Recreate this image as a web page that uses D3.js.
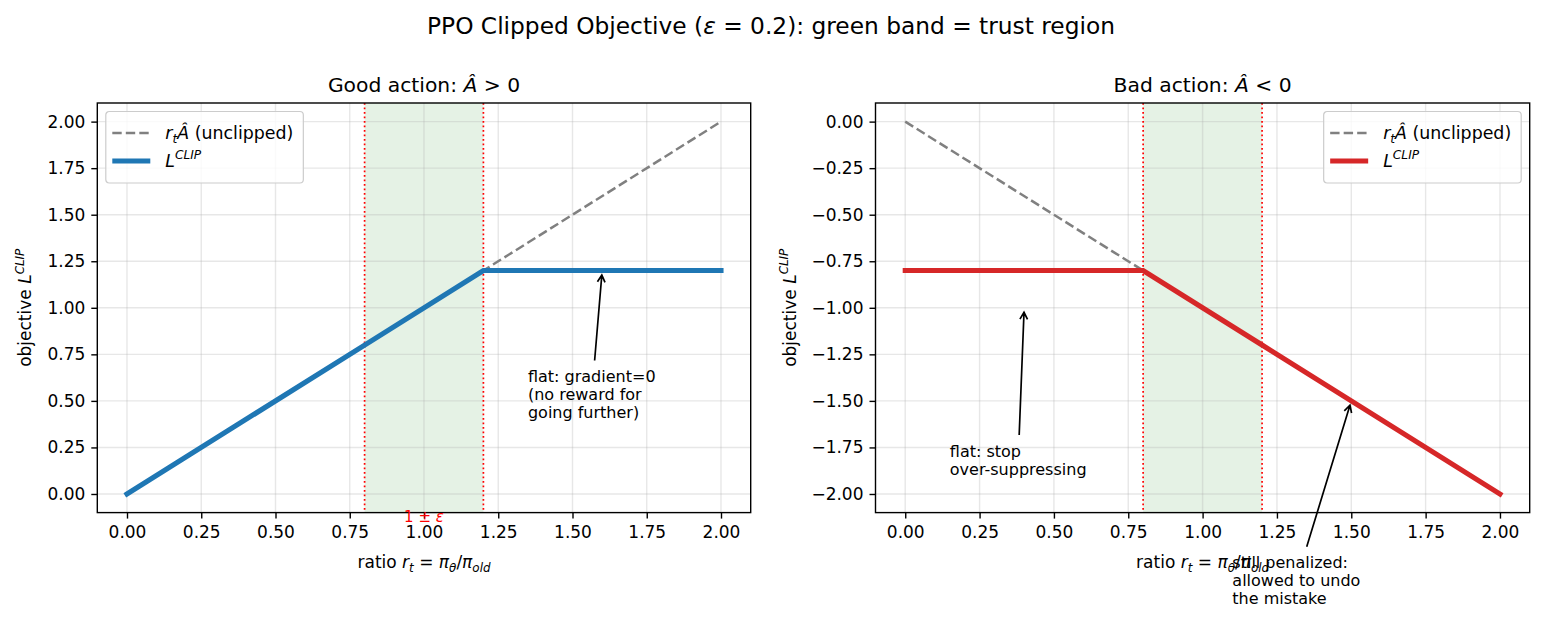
<!DOCTYPE html>
<html>
<head>
<meta charset="utf-8">
<script src="https://cdn.jsdelivr.net/npm/d3@7"></script>
<style>
body{margin:0;background:#fff;}
text{font-family:"DejaVu Sans",sans-serif;fill:#000;}
</style>
</head>
<body>
<svg id="chart" width="1543" height="621"></svg>
<script>
// ratio r_t and the objective values at the kinks (lines are straight between them)
var ratio = [0, 0.8, 1.2, 2.0];
var goodUnclipped = [0, 0.8, 1.2, 2.0];
var goodClip = [0, 0.8, 1.2, 1.2];
var badUnclipped = [0, -0.8, -1.2, -2.0];
var badClip = [-0.8, -0.8, -1.2, -2.0];
var bandEdges = [0.8, 1.2];

var xTicks = [0, 0.25, 0.5, 0.75, 1.0, 1.25, 1.5, 1.75, 2.0];
var goodYTicks = [0, 0.25, 0.5, 0.75, 1.0, 1.25, 1.5, 1.75, 2.0];
var badYTicks = [0, -0.25, -0.5, -0.75, -1.0, -1.25, -1.5, -1.75, -2.0];

var goodNotes = [
  {lines: ["flat: gradient=0", "(no reward for", "going further)"], xy: [1.6, 1.2], xytext: [1.35, 0.6]}
];
var badNotes = [
  {lines: ["flat: stop", "over-suppressing"], xy: [0.4, -1.0], xytext: [0.15, -1.8]},
  {lines: ["still penalized:", "allowed to undo", "the mistake"], xy: [1.5, -1.5], xytext: [1.1, -2.4]}
];

var svg = d3.select("#chart");
var fsTick = 17, fsAnn = 16;

// tiny mathtext-ish helper: parts = [{t, i (italic), sub, sup}]
function rich(textSel, parts, size){
  var prev = 0;
  parts.forEach(function(p){
    var shift = p.sub ? 0.25*size : (p.sup ? -0.45*size : 0);
    var ts = textSel.append("tspan").text(p.t).attr("dy", shift - prev);
    prev = shift;
    if(p.i) ts.style("font-style", "italic");
    if(p.sub || p.sup) ts.attr("font-size", size*0.7);
  });
  return textSel;
}

// figure title
rich(svg.append("text").attr("x", 771).attr("y", 33.5).attr("text-anchor", "middle").attr("font-size", 23.3),
  [{t: "PPO Clipped Objective ("}, {t: "ε", i: 1}, {t: " = 0.2): green band = trust region"}], 23.3);

function arrow(g, box, tx, ty){
  var pad = 3.4;
  var cx = box.x + box.width/2, cy = box.y + box.height/2;
  var x0 = box.x - pad, x1 = box.x + box.width + pad, y0 = box.y - pad, y1 = box.y + box.height + pad;
  var dx = tx - cx, dy = ty - cy, t = Infinity;
  if(dx > 0) t = Math.min(t, (x1 - cx)/dx);
  if(dx < 0) t = Math.min(t, (x0 - cx)/dx);
  if(dy > 0) t = Math.min(t, (y1 - cy)/dy);
  if(dy < 0) t = Math.min(t, (y0 - cy)/dy);
  var sx = cx + dx*t, sy = cy + dy*t;
  var len = Math.hypot(tx - sx, ty - sy), ux = (tx - sx)/len, uy = (ty - sy)/len;
  sx += ux*3.4; sy += uy*3.4;
  var ex = tx - ux*4.5, ey = ty - uy*4.5;
  var hl = 7, hw = 3.8;
  var bx = ex - ux*hl, by = ey - uy*hl;
  g.append("path")
    .attr("d", "M" + sx + "," + sy + "L" + ex + "," + ey +
      "M" + (bx - uy*hw) + "," + (by + ux*hw) + "L" + ex + "," + ey + "L" + (bx + uy*hw) + "," + (by - ux*hw))
    .attr("fill", "none").attr("stroke", "#000").attr("stroke-width", 1.7);
}

function drawPanel(o){
  var left = o.left, right = o.right, top = 103, bottom = 512.6;
  var x = d3.scaleLinear().domain([-0.1, 2.1]).range([left, right]);
  var y = d3.scaleLinear().domain(o.yDomain).range([bottom, top]);
  var g = svg.append("g");
  var clipId = "clip" + o.id;
  svg.append("clipPath").attr("id", clipId).append("rect")
    .attr("x", left).attr("y", top).attr("width", right - left).attr("height", bottom - top);

  // trust region band
  g.append("rect").attr("x", x(bandEdges[0])).attr("y", top)
    .attr("width", x(bandEdges[1]) - x(bandEdges[0])).attr("height", bottom - top)
    .attr("fill", "green").attr("fill-opacity", 0.1);

  // grid
  var grid = g.append("g").attr("stroke", "#b0b0b0").attr("stroke-opacity", 0.3).attr("stroke-width", 1.4);
  grid.selectAll(".gx").data(xTicks).enter().append("line")
    .attr("x1", function(d){ return x(d); }).attr("x2", function(d){ return x(d); })
    .attr("y1", top).attr("y2", bottom);
  grid.selectAll(".gy").data(o.yTicks).enter().append("line")
    .attr("y1", function(d){ return y(d); }).attr("y2", function(d){ return y(d); })
    .attr("x1", left).attr("x2", right);

  var plot = g.append("g").attr("clip-path", "url(#" + clipId + ")");
  var line = d3.line().x(function(d){ return x(d[0]); }).y(function(d){ return y(d[1]); });

  plot.selectAll(".edge").data(bandEdges).enter().append("line")
    .attr("x1", function(d){ return x(d); }).attr("x2", function(d){ return x(d); })
    .attr("y1", top).attr("y2", bottom)
    .attr("stroke", "red").attr("stroke-width", 1.7).attr("stroke-dasharray", "1.7,2.8");

  plot.append("path").datum(d3.zip(ratio, o.unclipped)).attr("d", line)
    .attr("fill", "none").attr("stroke", "#808080").attr("stroke-width", 2.5).attr("stroke-dasharray", "9.4,4.1");
  plot.append("path").datum(d3.zip(ratio, o.clip)).attr("d", line)
    .attr("fill", "none").attr("stroke", o.color).attr("stroke-width", 5.1).attr("stroke-linecap", "square");

  // axes
  var xa = g.append("g").attr("transform", "translate(0," + bottom + ")")
    .call(d3.axisBottom(x).tickValues(xTicks).tickFormat(d3.format(".2f")).tickSize(6).tickPadding(7));
  var ya = g.append("g").attr("transform", "translate(" + left + ",0)")
    .call(d3.axisLeft(y).tickValues(o.yTicks).tickFormat(d3.format(".2f")).tickSize(6).tickPadding(6));
  [xa, ya].forEach(function(a){
    a.select(".domain").remove();
    a.attr("font-size", fsTick).attr("font-family", "DejaVu Sans");
    a.selectAll(".tick line").attr("stroke-width", 1.4);
  });

  g.append("rect").attr("x", left).attr("y", top).attr("width", right - left).attr("height", bottom - top)
    .attr("fill", "none").attr("stroke", "#000").attr("stroke-width", 1.4);

  // labels
  rich(g.append("text").attr("x", (left + right)/2).attr("y", 92).attr("text-anchor", "middle").attr("font-size", 20.3),
    o.title, 20.3);
  rich(g.append("text").attr("x", (left + right)/2).attr("y", 568).attr("text-anchor", "middle").attr("font-size", fsTick),
    [{t: "ratio "}, {t: "r", i: 1}, {t: "t", i: 1, sub: 1}, {t: " = "}, {t: "π", i: 1}, {t: "θ", i: 1, sub: 1},
     {t: "/"}, {t: "π", i: 1}, {t: "old", i: 1, sub: 1}], fsTick);
  rich(g.append("text").attr("transform", "translate(" + (left - o.yLabelOffset) + "," + ((top + bottom)/2) + ") rotate(-90)")
    .attr("text-anchor", "middle").attr("font-size", fsTick),
    [{t: "objective "}, {t: "L", i: 1}, {t: "CLIP", i: 1, sup: 1}], fsTick);

  if(o.epsLabel){
    rich(g.append("text").attr("x", x(1.0)).attr("y", 521.5).attr("text-anchor", "middle")
      .attr("font-size", 15).style("fill", "red"),
      [{t: "1 ± "}, {t: "ε", i: 1}], 15);
  }

  // legend
  var lg = g.append("g");
  var rows = [
    {parts: [{t: "r", i: 1}, {t: "t", i: 1, sub: 1}, {t: "Â", i: 1}, {t: " (unclipped)"}], color: "#808080", w: 2.5, dash: "9.4,4.1"},
    {parts: [{t: "L", i: 1}, {t: "CLIP", i: 1, sup: 1}], color: o.color, w: 5.1, dash: null}
  ];
  var box = lg.append("rect");
  var texts = rows.map(function(r, i){
    return rich(lg.append("text").attr("x", 59.5).attr("y", 21.5 + i*28 + 6).attr("font-size", 17.4), r.parts, 17.4);
  });
  var tw = d3.max(texts, function(t){ return t.node().getBBox().width; });
  var bw = 59.5 + tw + 10, bh = 71.5;
  rows.forEach(function(r, i){
    lg.append("line").attr("x1", 6.5).attr("x2", 44.5).attr("y1", 21.5 + i*28).attr("y2", 21.5 + i*28)
      .attr("stroke", r.color).attr("stroke-width", r.w).attr("stroke-dasharray", r.dash);
  });
  box.attr("width", bw).attr("height", bh).attr("rx", 3.5)
    .attr("fill", "#fff").attr("fill-opacity", 0.8).attr("stroke", "#cccccc").attr("stroke-width", 1.2);
  var lx = o.legendRight ? right - 8.5 - bw : left + 8.5;
  lg.attr("transform", "translate(" + lx + "," + (top + 8.5) + ")");

  // annotations
  o.notes.forEach(function(n){
    var t = g.append("text").attr("font-size", fsAnn);
    n.lines.forEach(function(s, i){
      t.append("tspan").attr("x", x(n.xytext[0])).attr("y", y(n.xytext[1]) + i*17.8).text(s);
    });
    arrow(g, t.node().getBBox(), x(n.xy[0]), y(n.xy[1]));
  });
}

drawPanel({id: "good", left: 97.3, right: 750.7, yDomain: [-0.1, 2.1], yTicks: goodYTicks,
  unclipped: goodUnclipped, clip: goodClip, color: "#1f77b4", legendRight: false, notes: goodNotes,
  epsLabel: true, yLabelOffset: 66, title: [{t: "Good action: "}, {t: "Â", i: 1}, {t: " > 0"}]});
drawPanel({id: "bad", left: 875.5, right: 1529.7, yDomain: [-2.1, 0.1], yTicks: badYTicks,
  unclipped: badUnclipped, clip: badClip, color: "#d62728", legendRight: true, notes: badNotes,
  epsLabel: false, yLabelOffset: 80, title: [{t: "Bad action: "}, {t: "Â", i: 1}, {t: " < 0"}]});
</script>
</body>
</html>
